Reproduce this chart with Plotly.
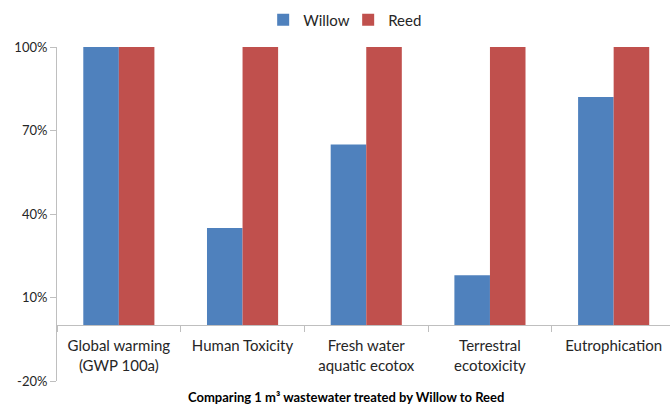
import plotly.graph_objects as go

# Impact categories and relative scores (% of the higher of the two systems)
categories = ["Global warming<br>(GWP 100a)", "Human Toxicity", "Fresh water<br>aquatic ecotox",
              "Terrestral<br>ecotoxicity", "Eutrophication"]
willow = [100, 35, 65, 18, 82]
reed = [100, 100, 100, 100, 100]
y_ticks = [-20, 10, 40, 70, 100]
y_tick_labels = ["-20%", "10%", "40%", "70%", "100%"]

FONT = "Lato, Carlito, 'Liberation Sans', sans-serif"
AXIS_GREY = "#bfbfbf"

fig = go.Figure()
fig.add_trace(go.Bar(name="Willow", x=categories, y=willow,
                     marker=dict(color="#4F81BD", line=dict(width=0))))
fig.add_trace(go.Bar(name="Reed", x=categories, y=reed,
                     marker=dict(color="#C0504D", line=dict(width=0))))

ymin, ymax = -20, 100
fig.update_layout(
    width=670, height=407,
    margin=dict(l=57, r=0, t=47, b=26),
    paper_bgcolor="white", plot_bgcolor="white",
    barmode="group", bargap=0.425, bargroupgap=0,
    font=dict(family=FONT, size=15, color="#262626"),
    showlegend=True,
    legend=dict(orientation="h", x=0.475, xanchor="center", y=1.081, yanchor="middle",
                font=dict(size=15), itemwidth=30, entrywidth=40, entrywidthmode="pixels",
                traceorder="normal", bgcolor="rgba(0,0,0,0)"),
    xaxis=dict(type="category", range=[-0.5, -0.5 + 613 / 123.7],
               anchor="free", position=(0 - ymin) / (ymax - ymin),
               showline=True, linecolor=AXIS_GREY, linewidth=1,
               ticks="outside", ticklen=6, tickcolor=AXIS_GREY, tickson="boundaries",
               ticklabelstandoff=7,
               showgrid=False, tickfont=dict(size=15), fixedrange=True),
    yaxis=dict(range=[ymin, ymax], tickvals=y_ticks, ticktext=y_tick_labels,
               showline=True, linecolor=AXIS_GREY, linewidth=1,
               ticks="outside", ticklen=6, tickcolor=AXIS_GREY,
               showgrid=False, zeroline=False, tickfont=dict(size=13)),
    annotations=[dict(text="<b>Comparing 1 m³ wastewater treated by Willow to Reed</b>",
                      xref="paper", yref="paper", x=0.471, y=-0.049,
                      xanchor="center", yanchor="middle", showarrow=False,
                      font=dict(size=13, color="#000000"))],
)

fig.write_html("out.html")
